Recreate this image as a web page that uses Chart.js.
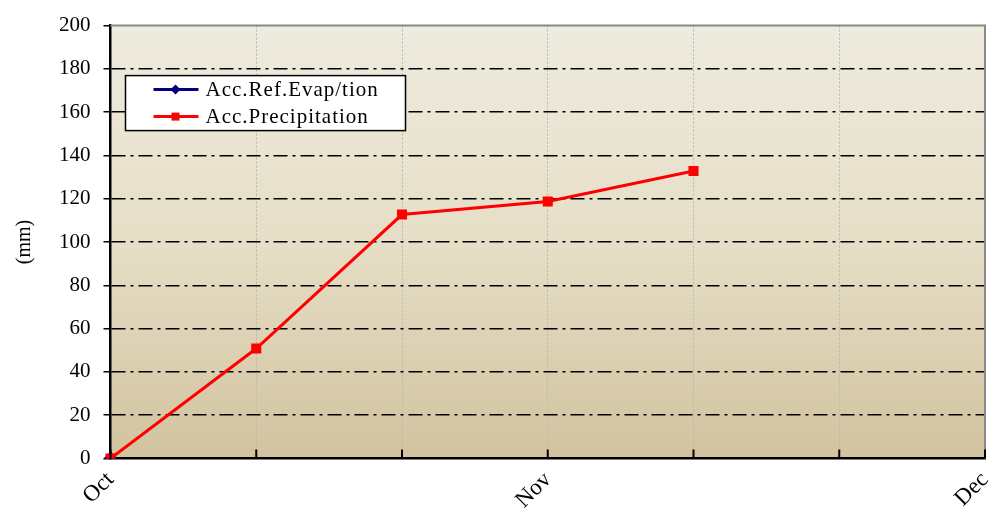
<!DOCTYPE html>
<html>
<head>
<meta charset="utf-8">
<script src="https://cdn.jsdelivr.net/npm/chart.js@4"></script>
<style>
  html, body { margin: 0; padding: 0; background: #fff; }
  #wrap { width: 993px; height: 517px; position: relative; }
</style>
</head>
<body>
<div id="wrap"><canvas id="accChart"></canvas></div>
<script>
// Datos del gráfico
const months = ['Oct', '', '', 'Nov', '', '', 'Dec'];
const evapLabel = 'Acc.Ref.Evap/tion';
const precipLabel = 'Acc.Precipitation';
const evapValues = [0];
const precipValues = [0, 50.8, 112.7, 118.7, 132.8];
const yTicks = [0, 20, 40, 60, 80, 100, 120, 140, 160, 180, 200];

const FONT = '"Liberation Serif", "DejaVu Serif", serif';

// Fondo degradado del área de trazado
const backgroundPlugin = {
    id: 'plotBackground',
    beforeDraw(chart) {
        const { ctx, chartArea: a } = chart;
        const g = ctx.createLinearGradient(0, a.top, 0, a.bottom);
        g.addColorStop(0, '#eeebdf');
        g.addColorStop(0.5, '#e6dec6');
        g.addColorStop(1, '#d2c39f');
        ctx.save();
        ctx.fillStyle = g;
        ctx.fillRect(a.left, a.top, a.right - a.left, a.bottom - a.top);
        ctx.restore();
    }
};

// Bordes, marcas interiores del eje x y leyenda
const overlayPlugin = {
    id: 'overlay',
    afterDraw(chart) {
        const { ctx, chartArea: a } = chart;
        const xScale = chart.scales.x;
        ctx.save();
        // borde superior y derecho gris
        ctx.strokeStyle = '#8a8a8a';
        ctx.lineWidth = 2;
        ctx.beginPath();
        ctx.moveTo(a.left, a.top);
        ctx.lineTo(a.right, a.top);
        ctx.lineTo(a.right, a.bottom);
        ctx.stroke();

        // marcas del eje x hacia dentro
        ctx.strokeStyle = '#000';
        ctx.lineWidth = 2;
        months.forEach((m, i) => {
            const x = xScale.getPixelForValue(i);
            ctx.beginPath();
            ctx.moveTo(x, a.bottom);
            ctx.lineTo(x, a.bottom - 9);
            ctx.stroke();
        });

        // leyenda
        const bx = a.left + 15, by = a.top + 50, bw = 280, bh = 55;
        ctx.fillStyle = '#fff';
        ctx.fillRect(bx, by, bw, bh);
        ctx.strokeStyle = '#000';
        ctx.lineWidth = 1.5;
        ctx.strokeRect(bx, by, bw, bh);
        ctx.font = '21px ' + FONT;
        ctx.letterSpacing = '1px';
        ctx.textBaseline = 'middle';
        chart.data.datasets.slice().sort((p, q) => p.legendIndex - q.legendIndex).forEach((ds, i) => {
            const y = by + 14 + i * 27;
            ctx.strokeStyle = ds.borderColor;
            ctx.lineWidth = 3;
            ctx.beginPath();
            ctx.moveTo(bx + 28, y);
            ctx.lineTo(bx + 73, y);
            ctx.stroke();
            ctx.fillStyle = ds.borderColor;
            const cx = bx + 50;
            if (ds.pointStyle === 'rectRot') {
                ctx.beginPath();
                ctx.moveTo(cx, y - 5);
                ctx.lineTo(cx + 5, y);
                ctx.lineTo(cx, y + 5);
                ctx.lineTo(cx - 5, y);
                ctx.closePath();
                ctx.fill();
            } else {
                ctx.fillRect(cx - 4, y - 4, 8, 8);
            }
            ctx.fillStyle = '#000';
            ctx.fillText(ds.label, bx + 80, y + 1);
        });
        ctx.restore();
    }
};

const ctx = document.getElementById('accChart').getContext('2d');
new Chart(ctx, {
    type: 'line',
    data: {
        labels: months,
        datasets: [
            {
                label: evapLabel,
                legendIndex: 0,
                order: 1,
                data: evapValues,
                borderColor: '#000080',
                backgroundColor: '#000080',
                borderWidth: 3,
                pointStyle: 'rectRot',
                pointRadius: 5,
                tension: 0
            },
            {
                label: precipLabel,
                legendIndex: 1,
                order: 0,
                data: precipValues,
                borderColor: '#ff0000',
                backgroundColor: '#ff0000',
                borderWidth: 3,
                pointStyle: 'rect',
                pointRadius: 5,
                tension: 0
            }
        ]
    },
    options: {
        responsive: true,
        maintainAspectRatio: false,
        animation: false,
        layout: { padding: { top: 15, right: 4, left: 9, bottom: 0 } },
        plugins: {
            legend: { display: false },
            tooltip: { enabled: false }
        },
        scales: {
            x: {
                offset: false,
                afterFit(scale) {
                    scale.paddingLeft = 0;
                    scale.paddingRight = 0;
                    scale.height -= 5;
                },
                grid: {
                    color: '#b8b8b0',
                    lineWidth: 1,
                    drawTicks: false
                },
                border: { display: true, color: '#000', width: 2.5, dash: [2, 2] },
                ticks: {
                    autoSkip: false,
                    maxRotation: 45,
                    minRotation: 45,
                    padding: 8,
                    color: '#000',
                    font: { family: FONT, size: 23 }
                }
            },
            y: {
                min: 0,
                max: 200,
                afterBuildTicks(scale) {
                    scale.ticks = yTicks.map(v => ({ value: v }));
                },
                grid: {
                    color: c => (c.tick && (c.tick.value === 0 || c.tick.value === 200)) ? 'rgba(0,0,0,0)' : '#000',
                    lineWidth: 1.5,
                    drawTicks: true,
                    tickLength: 7,
                    tickColor: '#000',
                    tickWidth: 1.5
                },
                border: { display: true, color: '#000', width: 2.5, dash: [14, 5, 3, 5] },
                ticks: {
                    padding: 13,
                    color: '#000',
                    font: { family: FONT, size: 21 }
                },
                title: {
                    display: true,
                    text: '(mm)',
                    color: '#000',
                    padding: { bottom: 9 },
                    font: { family: FONT, size: 20 }
                }
            }
        }
    },
    plugins: [backgroundPlugin, overlayPlugin]
});
</script>
</body>
</html>
